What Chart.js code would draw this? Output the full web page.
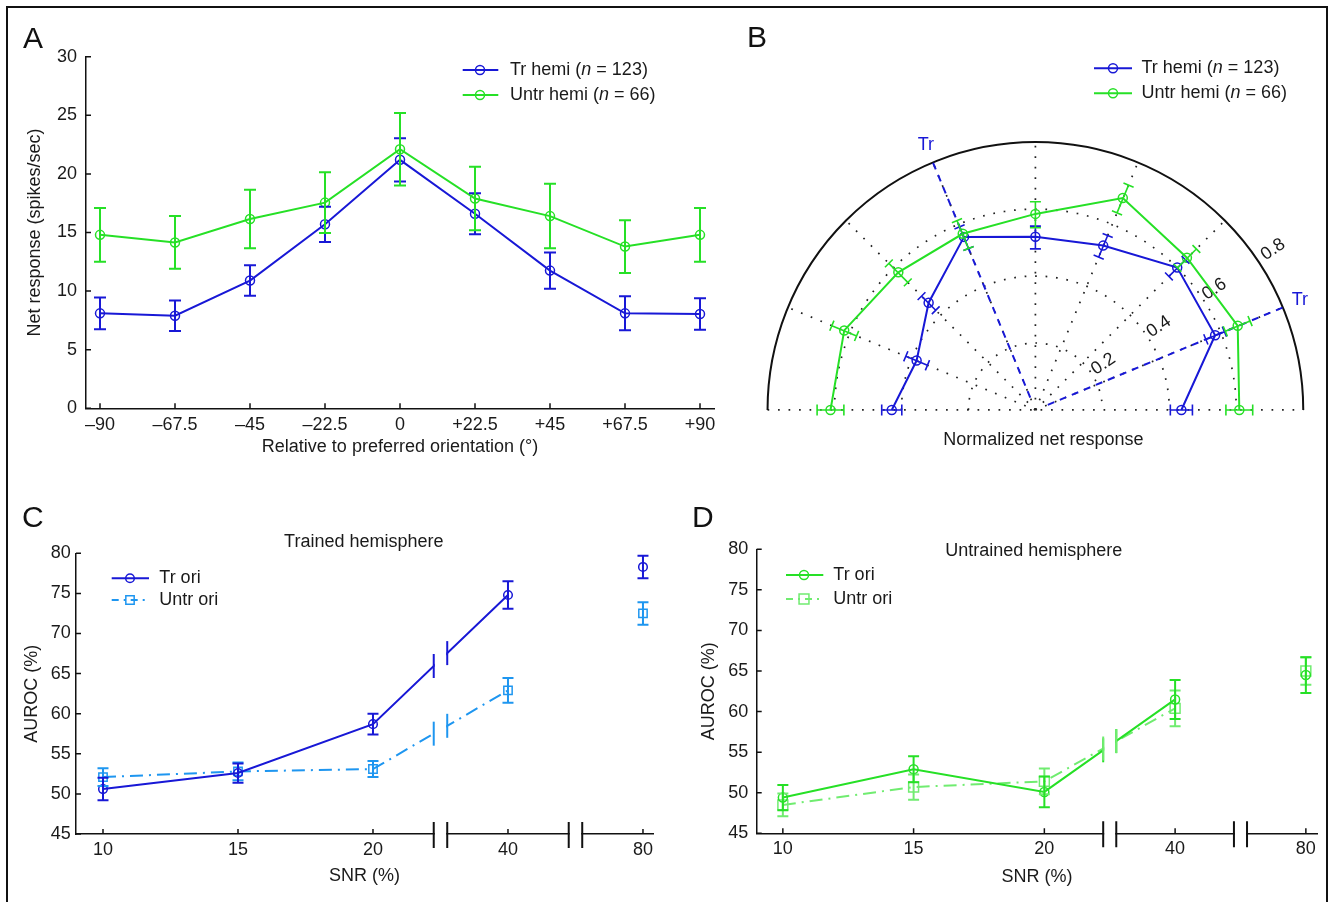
<!DOCTYPE html>
<html>
<head>
<meta charset="utf-8">
<script src="https://cdn.jsdelivr.net/npm/chart.js@4.4.0/dist/chart.umd.min.js"></script>
<style>
  html, body { margin: 0; padding: 0; background: #fff; }
  #fig { position: relative; width: 1334px; height: 902px; overflow: hidden; background: #fff; }
  #fig canvas { position: absolute; }
  .frame { position: absolute; left: 6px; top: 6px; width: 1322px; height: 930px; border: 2px solid #111; box-sizing: border-box; }
  .tag { position: absolute; font: 30px/30px 'Liberation Sans', Arial, sans-serif; color: #111; }
</style>
</head>
<body>
<div id="fig">
  <div class="frame"></div>
  <canvas id="chartA" width="722" height="462" style="left:8px;top:8px"></canvas>
  <canvas id="chartB" width="586" height="462" style="left:740px;top:8px"></canvas>
  <canvas id="chartC" width="692" height="420" style="left:8px;top:480px"></canvas>
  <canvas id="chartD" width="636" height="420" style="left:690px;top:480px"></canvas>
  <div class="tag" style="left:23px;top:23px">A</div>
  <div class="tag" style="left:747px;top:22px">B</div>
  <div class="tag" style="left:22px;top:502px">C</div>
  <div class="tag" style="left:692px;top:502px">D</div>
</div>
<script>
const FONT = "'Liberation Sans', Arial, sans-serif";
Chart.defaults.font.family = FONT;
Chart.defaults.font.size = 18;
Chart.defaults.color = '#1a1a1a';

const BLUE = '#1818d6';
const GREEN = '#26e026';
const LIGHT_BLUE = '#1e96f0';
const LIGHT_GREEN = '#70ec70';

// A: net response vs orientation relative to preferred
const orientations = [-90, -67.5, -45, -22.5, 0, 22.5, 45, 67.5, 90];
const orientationLabels = ['–90', '–67.5', '–45', '–22.5', '0', '+22.5', '+45', '+67.5', '+90'];
const trHemi = [8.1, 7.9, 10.9, 15.7, 21.2, 16.6, 11.75, 8.1, 8.05];
const trHemiErr = [1.35, 1.3, 1.3, 1.5, 1.85, 1.75, 1.55, 1.45, 1.35];
const untrHemi = [14.8, 14.15, 16.15, 17.55, 22.1, 17.9, 16.4, 13.8, 14.8];
const untrHemiErr = [2.3, 2.25, 2.5, 2.6, 3.1, 2.7, 2.75, 2.25, 2.3];

// B: normalized response, polar (absolute orientation, deg)
const polarAngles = [0, 22.5, 45, 67.5, 90, 112.5, 135, 157.5, 180];
const trNorm = [0.436, 0.581, 0.599, 0.529, 0.515, 0.557, 0.451, 0.384, 0.429];
const trNormErr = [0.033, 0.03, 0.035, 0.035, 0.034, 0.035, 0.03, 0.035, 0.03];
const untrNorm = [0.609, 0.654, 0.640, 0.682, 0.583, 0.567, 0.579, 0.618, 0.612];
const untrNormErr = [0.04, 0.04, 0.04, 0.045, 0.039, 0.045, 0.04, 0.04, 0.04];
const ringTicks = [0.2, 0.4, 0.6, 0.8];
const trainedAxes = [112.5, 22.5];

// C, D: AUROC vs SNR (SNR levels placed at even steps)
const snrLabels = ['10', '15', '20', '40', '80'];
const snrPos = [1, 2, 3, 4, 5];
const trHemiTrOri = [50.6, 52.6, 58.7, 74.8, 78.3];
const trHemiTrOriErr = [1.4, 1.2, 1.3, 1.7, 1.4];
const trHemiUntrOri = [52.1, 52.8, 53.1, 62.9, 72.5];
const trHemiUntrOriErr = [1.1, 1.1, 1.0, 1.55, 1.4];
const untrHemiTrOri = [49.4, 52.9, 50.1, 61.5, 64.5];
const untrHemiTrOriErr = [1.55, 1.6, 1.9, 2.4, 2.2];
const untrHemiUntrOri = [48.5, 50.7, 51.4, 60.4, 65.0];
const untrHemiUntrOriErr = [1.4, 1.55, 1.6, 2.2, 1.7];

function series(xs, ys, errs, color, extra) {
  return Object.assign({
    data: xs.map((v, i) => ({x: v, y: ys[i]})),
    errors: errs,
    showLine: true,
    tension: 0,
    borderColor: color,
    borderWidth: 2,
    pointStyle: 'circle',
    pointRadius: 4.5,
    pointHoverRadius: 4.5,
    pointBorderColor: color,
    pointBackgroundColor: 'rgba(0,0,0,0)',
    pointBorderWidth: 1.5
  }, extra || {});
}

// ticks pointing into the plot, MATLAB style
const innerTicks = {
  id: 'innerTicks',
  afterDraw(chart) {
    const {ctx, chartArea: a, scales: {x, y}} = chart;
    if (!x.options.display) return;
    ctx.save();
    ctx.strokeStyle = '#111';
    ctx.lineWidth = 1.5;
    ctx.beginPath();
    x.ticks.forEach(t => {
      const px = x.getPixelForValue(t.value);
      ctx.moveTo(px, a.bottom); ctx.lineTo(px, a.bottom - 5);
    });
    y.ticks.forEach(t => {
      const py = y.getPixelForValue(t.value);
      ctx.moveTo(a.left, py); ctx.lineTo(a.left + 5, py);
    });
    ctx.stroke();
    ctx.restore();
  }
};

const errorBars = {
  id: 'errorBars',
  afterDatasetsDraw(chart, args, o) {
    const {ctx, scales: {x, y}} = chart;
    const cap = o.cap || 6;
    const sets = chart.data.datasets.slice().reverse();
    sets.forEach(ds => {
      if (!ds.errors) return;
      ctx.save();
      ctx.strokeStyle = ds.borderColor;
      ctx.lineWidth = 2;
      ctx.beginPath();
      ds.data.forEach((p, i) => {
        const px = x.getPixelForValue(p.x);
        const top = y.getPixelForValue(p.y + ds.errors[i]);
        const bot = y.getPixelForValue(p.y - ds.errors[i]);
        ctx.moveTo(px, top); ctx.lineTo(px, bot);
        ctx.moveTo(px - cap, top); ctx.lineTo(px + cap, top);
        ctx.moveTo(px - cap, bot); ctx.lineTo(px + cap, bot);
      });
      ctx.stroke();
      ctx.restore();
    });
  }
};

// broken x axis between 20 / 40 and 40 / 80
const axisBreaks = {
  id: 'axisBreaks',
  afterDraw(chart, args, o) {
    if (!o.at) return;
    const {ctx, chartArea: a, scales: {x, y}} = chart;
    ctx.save();
    o.at.forEach(g => {
      const xa = x.getPixelForValue(g - o.half);
      const xb = x.getPixelForValue(g + o.half);
      ctx.fillStyle = '#fff';
      ctx.fillRect(xa + 1, a.top, xb - xa - 2, a.bottom - a.top + 2);
      ctx.strokeStyle = '#111';
      ctx.lineWidth = 2;
      ctx.beginPath();
      [xa, xb].forEach(px => { ctx.moveTo(px, a.bottom - 12); ctx.lineTo(px, a.bottom + 14); });
      ctx.stroke();
      chart.data.datasets.forEach(ds => {
        const d = ds.data;
        for (let i = 0; i < d.length - 1; i++) {
          if (d[i].x < g && d[i + 1].x > g && i + 1 !== ds.isolated) {
            [g - o.half, g + o.half].forEach(gx => {
              const f = (gx - d[i].x) / (d[i + 1].x - d[i].x);
              const py = y.getPixelForValue(d[i].y + f * (d[i + 1].y - d[i].y));
              const px = x.getPixelForValue(gx);
              ctx.strokeStyle = ds.borderColor;
              ctx.lineWidth = 2;
              ctx.beginPath(); ctx.moveTo(px, py - 12); ctx.lineTo(px, py + 12); ctx.stroke();
            });
          }
        }
      });
    });
    ctx.restore();
  }
};

const figText = {
  id: 'figText',
  afterDraw(chart, args, o) {
    if (!o.items) return;
    const ctx = chart.ctx;
    ctx.save();
    o.items.forEach(t => {
      ctx.font = `18px ${FONT}`;
      ctx.fillStyle = '#1a1a1a';
      ctx.textAlign = 'center';
      ctx.textBaseline = 'middle';
      ctx.fillText(t.text, t.x, t.y);
    });
    ctx.restore();
  }
};

function marker(ctx, style, x, y, r) {
  ctx.beginPath();
  if (style === 'rect') {
    const s = r * Math.SQRT1_2;
    ctx.rect(x - s, y - s, 2 * s, 2 * s);
  } else {
    ctx.arc(x, y, r, 0, Math.PI * 2);
  }
  ctx.stroke();
}

const figLegend = {
  id: 'figLegend',
  afterDraw(chart, args, o) {
    if (!o.items) return;
    const ctx = chart.ctx;
    ctx.save();
    o.items.forEach((it, k) => {
      const y = o.rows[k];
      ctx.strokeStyle = it.color;
      ctx.lineWidth = 2;
      ctx.setLineDash(it.dash || []);
      ctx.beginPath(); ctx.moveTo(o.x0, y); ctx.lineTo(o.x1, y); ctx.stroke();
      ctx.setLineDash([]);
      ctx.lineWidth = 1.5;
      marker(ctx, it.style, o.mx, y, it.radius);
      let tx = o.tx;
      ctx.fillStyle = '#1a1a1a';
      ctx.textAlign = 'left';
      ctx.textBaseline = 'middle';
      it.parts.forEach(p => {
        ctx.font = (p.italic ? 'italic ' : '') + `18px ${FONT}`;
        ctx.fillText(p.text, tx, y);
        tx += ctx.measureText(p.text).width;
      });
    });
    ctx.restore();
  }
};

const hemiLegend = [
  {color: BLUE, style: 'circle', radius: 4.5,
   parts: [{text: 'Tr hemi ('}, {text: 'n', italic: true}, {text: ' = 123)'}]},
  {color: GREEN, style: 'circle', radius: 4.5,
   parts: [{text: 'Untr hemi ('}, {text: 'n', italic: true}, {text: ' = 66)'}]}
];

const baseOptions = {
  responsive: false,
  animation: false,
  events: [],
  plugins: {legend: {display: false}, tooltip: {enabled: false}}
};

function axisStyle(extra) {
  return Object.assign({
    type: 'linear',
    grid: {display: false, drawTicks: false},
    border: {display: true, color: '#111', width: 1.5}
  }, extra);
}

// ---------- A ----------
new Chart(document.getElementById('chartA'), {
  type: 'scatter',
  data: {datasets: [
    series(orientations, untrHemi, untrHemiErr, GREEN),
    series(orientations, trHemi, trHemiErr, BLUE)
  ]},
  options: Object.assign({}, baseOptions, {
    layout: {padding: {top: 48.7, right: 16, bottom: 0, left: 0}},
    scales: {
      x: axisStyle({
        min: -94.2, max: 94.2,
        afterBuildTicks: s => { s.ticks = orientations.map(v => ({value: v})); },
        afterFit: s => { s.height = 61.7; },
        ticks: {padding: 5.9, maxRotation: 0, autoSkip: false, callback: (v, i) => orientationLabels[i]},
        title: {display: true, text: 'Relative to preferred orientation (°)', padding: {top: 0, bottom: 12.2}}
      }),
      y: axisStyle({
        min: 0, max: 30,
        afterFit: s => { s.width = 78; },
        ticks: {stepSize: 5, padding: 9},
        title: {display: true, text: 'Net response (spikes/sec)', padding: {top: 16.2, bottom: 0}}
      })
    },
    plugins: Object.assign({}, baseOptions.plugins, {
      errorBars: {cap: 6},
      figLegend: {x0: 454.7, x1: 490.3, mx: 472, tx: 502, rows: [62, 87], items: hemiLegend}
    })
  }),
  plugins: [innerTicks, errorBars, figLegend]
});

// ---------- B ----------
const toXY = r => polarAngles.map((a, i) => ({
  x: r[i] * Math.cos(a * Math.PI / 180),
  y: r[i] * Math.sin(a * Math.PI / 180)
}));

const polarGrid = {
  id: 'polarGrid',
  beforeDatasetsDraw(chart, args, o) {
    const {ctx, scales: {x, y}} = chart;
    const cx = x.getPixelForValue(0), cy = y.getPixelForValue(0);
    const u = x.getPixelForValue(1) - cx;
    const rMax = ringTicks[ringTicks.length - 1];
    const R = rMax * u;
    ctx.save();
    ctx.strokeStyle = '#222';
    ctx.lineWidth = 1.7;
    ctx.setLineDash([1.7, 8.8]);
    ringTicks.slice(0, -1).forEach(r => {
      ctx.beginPath(); ctx.arc(cx, cy, r * u, Math.PI, 2 * Math.PI); ctx.stroke();
    });
    polarAngles.slice(1, -1).forEach(a => {
      const t = a * Math.PI / 180;
      ctx.beginPath(); ctx.moveTo(cx, cy); ctx.lineTo(cx + R * Math.cos(t), cy - R * Math.sin(t)); ctx.stroke();
    });
    ctx.beginPath(); ctx.moveTo(cx - R, cy); ctx.lineTo(cx + R, cy); ctx.stroke();
    ctx.setLineDash([]);
    ctx.strokeStyle = '#111';
    ctx.lineWidth = 2;
    ctx.beginPath(); ctx.arc(cx, cy, R, Math.PI, 2 * Math.PI); ctx.stroke();

    // radial tick labels
    ctx.fillStyle = '#1a1a1a';
    ctx.font = `18px ${FONT}`;
    ctx.textAlign = 'center';
    ctx.textBaseline = 'middle';
    const la = 34 * Math.PI / 180;
    ringTicks.forEach((r, k) => {
      const d = r * u + (k === ringTicks.length - 1 ? 19 : 15);
      ctx.save();
      ctx.translate(cx + d * Math.cos(la), cy - d * Math.sin(la));
      ctx.rotate(-la);
      ctx.fillText(r.toFixed(1), 0, 0);
      ctx.restore();
    });

    // trained orientation axes
    ctx.strokeStyle = BLUE;
    ctx.lineWidth = 2;
    ctx.setLineDash([7, 6]);
    trainedAxes.forEach(a => {
      const t = a * Math.PI / 180;
      ctx.beginPath();
      ctx.moveTo(cx + 0.04 * u * Math.cos(t), cy - 0.04 * u * Math.sin(t));
      ctx.lineTo(cx + R * Math.cos(t), cy - R * Math.sin(t));
      ctx.stroke();
    });
    ctx.setLineDash([]);
    ctx.fillStyle = BLUE;
    trainedAxes.forEach(a => {
      const t = a * Math.PI / 180;
      const d = 0.855 * u;
      ctx.fillText('Tr', cx + d * Math.cos(t), cy - d * Math.sin(t));
    });
    ctx.fillStyle = '#1a1a1a';
    ctx.fillText('Normalized net response', cx + 8, cy + 30);
    ctx.restore();
  }
};

const radialErrors = {
  id: 'radialErrors',
  afterDatasetsDraw(chart) {
    const {ctx, scales: {x, y}} = chart;
    const cx = x.getPixelForValue(0), cy = y.getPixelForValue(0);
    const u = x.getPixelForValue(1) - cx;
    chart.data.datasets.slice().reverse().forEach(ds => {
      if (!ds.radial) return;
      ctx.save();
      ctx.strokeStyle = ds.borderColor;
      ctx.lineWidth = 1.6;
      ctx.beginPath();
      ds.radial.r.forEach((r, i) => {
        const t = polarAngles[i] * Math.PI / 180, e = ds.radial.err[i];
        const c = Math.cos(t), s = Math.sin(t);
        const p1 = [cx + (r - e) * u * c, cy - (r - e) * u * s];
        const p2 = [cx + (r + e) * u * c, cy - (r + e) * u * s];
        ctx.moveTo(p1[0], p1[1]); ctx.lineTo(p2[0], p2[1]);
        [p1, p2].forEach(p => {
          ctx.moveTo(p[0] - 5.5 * s, p[1] - 5.5 * c);
          ctx.lineTo(p[0] + 5.5 * s, p[1] + 5.5 * c);
        });
      });
      ctx.stroke();
      ctx.restore();
    });
  }
};

new Chart(document.getElementById('chartB'), {
  type: 'scatter',
  data: {datasets: [
    Object.assign(series([], [], null, GREEN), {data: toXY(untrNorm), radial: {r: untrNorm, err: untrNormErr}}),
    Object.assign(series([], [], null, BLUE), {data: toXY(trNorm), radial: {r: trNorm, err: trNormErr}})
  ]},
  options: Object.assign({}, baseOptions, {
    layout: {padding: {top: 116.1, right: 3.4, bottom: 26.4, left: 10.8}},
    scales: {
      x: {type: 'linear', display: false, min: -0.85, max: 0.85},
      y: {type: 'linear', display: false, min: -0.1, max: 0.85}
    },
    plugins: Object.assign({}, baseOptions.plugins, {
      figLegend: {x0: 354, x1: 392, mx: 373, tx: 401.5, rows: [60.3, 85.3], items: hemiLegend}
    })
  }),
  plugins: [polarGrid, radialErrors, figLegend]
});

// ---------- C & D ----------
function snrChart(id, opts) {
  const hideLast = {borderColor: c => c.p1DataIndex === 4 ? 'rgba(0,0,0,0)' : undefined};
  return new Chart(document.getElementById(id), {
    type: 'scatter',
    data: {datasets: [
      series(snrPos, opts.tr, opts.trErr, opts.trColor, {isolated: 4, segment: hideLast, pointRadius: opts.circleR, pointHoverRadius: opts.circleR}),
      series(snrPos, opts.untr, opts.untrErr, opts.untrColor, {
        isolated: 4, segment: hideLast, borderDash: [13, 6, 2, 6],
        pointStyle: 'rect', pointRadius: opts.rectR, pointHoverRadius: opts.rectR
      })
    ]},
    options: Object.assign({}, baseOptions, {
      layout: {padding: opts.padding},
      scales: {
        x: axisStyle({
          min: 0.8, max: opts.xMax,
          afterBuildTicks: s => { s.ticks = snrPos.map(v => ({value: v})); },
          afterFit: s => { s.height = opts.xH; },
          ticks: {padding: 5.2, maxRotation: 0, autoSkip: false, callback: (v, i) => snrLabels[i]},
          title: {display: true, text: 'SNR (%)', padding: {top: 0, bottom: opts.xTitlePad}}
        }),
        y: axisStyle({
          min: 45, max: 80,
          afterFit: s => { s.width = opts.yW; },
          ticks: {stepSize: 5, padding: opts.yTickPad},
          title: {display: true, text: 'AUROC (%)', padding: {top: opts.yTitlePad, bottom: 0}}
        })
      },
      plugins: Object.assign({}, baseOptions.plugins, {
        errorBars: {cap: 5.5},
        axisBreaks: {at: [3.5, 4.5], half: 0.05},
        figText: {items: [opts.title]},
        figLegend: Object.assign({items: [
          {color: opts.trColor, style: 'circle', radius: opts.circleR, parts: [{text: 'Tr ori'}]},
          {color: opts.untrColor, style: 'rect', radius: opts.rectR, dash: [7, 5, 2, 5], parts: [{text: 'Untr ori'}]}
        ]}, opts.legend)
      })
    }),
    plugins: [innerTicks, errorBars, axisBreaks, figText, figLegend]
  });
}

snrChart('chartC', {
  tr: trHemiTrOri, trErr: trHemiTrOriErr, untr: trHemiUntrOri, untrErr: trHemiUntrOriErr,
  trColor: BLUE, untrColor: LIGHT_BLUE, circleR: 4.3, rectR: 5.9,
  padding: {top: 73.3, right: 46.9, bottom: 0, left: 0},
  xMax: 5.075, xH: 66, yW: 68, yTickPad: 5.3, yTitlePad: 12.9, xTitlePad: 13.2,
  title: {text: 'Trained hemisphere', x: 355.8, y: 61.7},
  legend: {x0: 103.7, x1: 141, mx: 122, tx: 151.3, rows: [98.3, 120]}
});

snrChart('chartD', {
  tr: untrHemiTrOri, trErr: untrHemiTrOriErr, untr: untrHemiUntrOri, untrErr: untrHemiUntrOriErr,
  trColor: GREEN, untrColor: LIGHT_GREEN, circleR: 4.5, rectR: 7,
  padding: {top: 69.3, right: 4.4, bottom: 0, left: 0},
  xMax: 5.089, xH: 66.7, yW: 66.7, yTickPad: 8.4, yTitlePad: 8.5, xTitlePad: 12.5,
  title: {text: 'Untrained hemisphere', x: 343.7, y: 70.7},
  legend: {x0: 96, x1: 133.3, mx: 114, tx: 143.3, rows: [95, 119]}
});
</script>
</body>
</html>
